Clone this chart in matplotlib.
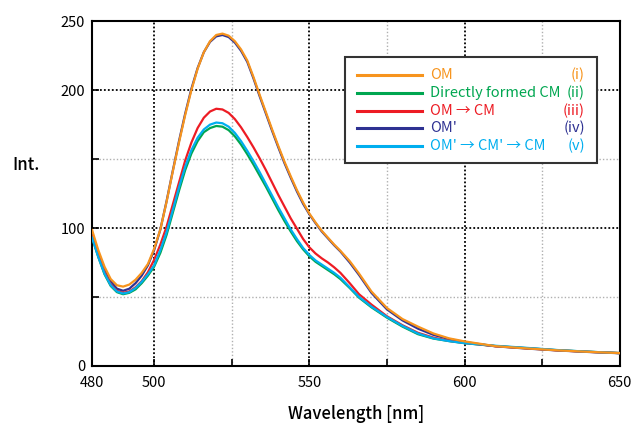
import numpy as np
import matplotlib
matplotlib.use("Agg")
from matplotlib import pyplot as plt
from matplotlib.patches import Rectangle
from matplotlib.lines import Line2D

plt.rcParams['font.family'] = ['Noto Sans CJK JP', 'DejaVu Sans']

# wavelength grid (nm)
wl = [480, 482, 484, 486, 488, 490, 492, 494, 496, 498,
      500, 502, 504, 506, 508, 510, 512, 514, 516, 518, 520, 522, 524, 526, 528,
      530, 532, 534, 536, 538, 540, 542, 544, 546, 548, 550, 552, 554, 556, 558, 560,
      563, 566, 570, 575, 580, 585, 590, 595, 600, 610, 620, 630, 640, 650]

# (i) OM
om = [98.5, 84, 72, 63, 58.5, 57.5, 59, 62.5, 67.5, 74,
      85, 99, 119, 141, 162, 182, 200, 215.5, 227.5, 235.5, 240, 241, 239.5, 235.5, 229.5,
      221.5, 209.5, 196.5, 184, 171.5, 159.5, 148, 137.5, 127.5, 118.5, 110.5, 104, 98, 93, 88, 83.5,
      76, 67, 54, 42, 34, 28.5, 23.5, 20, 17.8, 14.3, 12.7, 11.3, 10.2, 9.3]
# (ii) Directly formed CM
cm_direct = [93, 79, 66.5, 58, 53.5, 52, 53, 55.5, 60, 65.5,
             72, 82, 95, 111, 127, 142, 154, 163, 169.5, 172.5, 174, 173.5, 171, 166.5, 160.5,
             153.5, 146, 138, 130, 121.5, 113, 105, 97.5, 90.5, 84.5, 79.5, 75.5, 72.5, 69.5, 66.5, 63,
             56.5, 49.5, 42.5, 35, 28.5, 23, 19.8, 18, 16.5, 14.4, 12.9, 11.4, 10.3, 9.3]
# (iii) OM -> CM
om_cm = [94, 80, 68, 59, 54.5, 53, 54, 57, 61.5, 68,
         77, 88, 101, 117, 133, 149, 162, 172.5, 180, 184.5, 186.5, 186, 183.5, 179, 173,
         166, 158.5, 150.5, 142, 133, 124, 115.5, 107, 99.5, 92, 86, 81.5, 78, 75, 71.5, 67.5,
         60, 52, 44.5, 36, 29.5, 24, 20.5, 18.2, 16.7, 14.3, 12.8, 11.3, 10.2, 9.3]
# (iv) OM'
om2 = [95, 82, 70.5, 61.5, 56, 54.5, 56, 60, 65.5, 73,
       84, 99, 119.5, 141.5, 163, 183, 201, 216, 227.5, 235, 239, 240, 238.5, 234.5, 228.5,
       220.5, 208.5, 195.5, 183, 170.5, 158.5, 147, 136.5, 126.5, 117.5, 110, 103.5, 97.5, 92.5, 87.5, 83,
       75, 66, 53, 41, 33, 27, 22.5, 19.5, 17.3, 14.2, 12.6, 11.2, 10.1, 9.2]
# (v) OM' -> CM' -> CM
om2_cm = [93, 79, 67, 58.5, 54, 52.5, 53.5, 56.5, 61, 66.5,
          73, 84, 97, 113, 129.5, 144.5, 156.5, 165.5, 171.5, 175, 176.5, 176, 173.5, 169, 163,
          156, 148.5, 140.5, 132, 123.5, 115, 107, 99, 92, 85.5, 80.5, 76.5, 73.5, 70.5, 67.5, 64,
          57, 50, 43, 35.5, 29, 23.5, 20, 18, 16.5, 14.6, 13.1, 11.5, 10.3, 9.3]

labels = ['OM', 'Directly formed CM', 'OM \u2192 CM', "OM'", "OM' \u2192 CM' \u2192 CM"]
numerals = ['(i)', '(ii)', '(iii)', '(iv)', '(v)']
colors = ['#F7941D', '#00A650', '#ED1C24', '#2E3192', '#00AEEF']
series = [om, cm_direct, om_cm, om2, om2_cm]

fig = plt.figure(figsize=(6.35, 4.24), dpi=100)
ax = fig.add_axes([0.145, 0.137, 0.831, 0.813])

# draw order: green, navy, red, cyan, orange
for i in [1, 3, 2, 4, 0]:
    ax.plot(wl, series[i], color=colors[i], lw=1.6, zorder=3)

ax.set_xlim(480, 650)
ax.set_ylim(0, 250)
ax.set_xticks([480, 500, 550, 600, 650])
ax.set_xticks([525, 575, 625], minor=True)
ax.set_yticks([0, 100, 200, 250])
ax.set_yticks([50, 150], minor=True)
ax.tick_params(which='both', direction='in', length=5, width=1.2, labelsize=10.5)
ax.tick_params(axis='x', pad=7)
ax.tick_params(axis='y', pad=5)
for sp in ax.spines.values():
    sp.set_linewidth(1.5)

ax.set_axisbelow(True)
ax.grid(which='major', color='black', linestyle=(0, (1, 1.2)), lw=1.3)
ax.grid(which='minor', color='#b0b0b0', linestyle=(0, (1, 1.5)), lw=1.0)

ax.set_xlabel('Wavelength [nm]', fontsize=12, fontweight='medium', labelpad=11)
ax.set_ylabel('Int.', fontsize=12, fontweight='medium', rotation=0, ha='center', va='center')
ax.yaxis.set_label_coords(-0.125, 0.583)

# legend box with a right-hand column of numerals
ax.add_patch(Rectangle((0.479, 0.588), 0.477, 0.308, transform=ax.transAxes,
                       facecolor='white', edgecolor='#333333', lw=1.5, zorder=5))
rows = [0.843, 0.791, 0.739, 0.690, 0.638]
for lab, num, c, yy in zip(labels, numerals, colors, rows):
    ax.add_line(Line2D([0.502, 0.625], [yy, yy], transform=ax.transAxes,
                       color=c, lw=2.2, zorder=6))
    ax.text(0.640, yy, lab, transform=ax.transAxes, color=c, fontsize=10.5,
            va='center', ha='left', zorder=6)
    ax.text(0.934, yy, num, transform=ax.transAxes, color=c, fontsize=10.5,
            va='center', ha='right', zorder=6)

fig.savefig('out.png', dpi=100)
